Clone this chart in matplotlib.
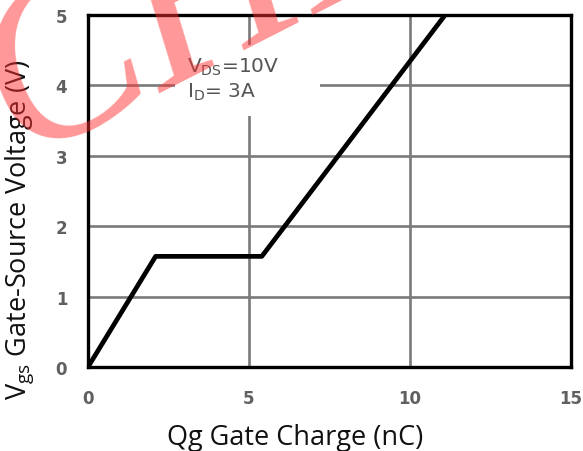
import matplotlib
matplotlib.use('Agg')
from matplotlib import pyplot as plt
from matplotlib.patches import Rectangle

# gate charge curve
qg = [0.0, 2.1, 5.4, 11.1]
vgs = [0.0, 1.57, 1.57, 5.0]

x_ticks = [0, 5, 10, 15]
y_ticks = [0, 1, 2, 3, 4, 5]


def plot_gate_charge():
    fig = plt.figure(figsize=(5.83, 4.52), dpi=100)
    ax = fig.add_axes([0.151, 0.186, 0.828, 0.779])

    ax.plot(qg, vgs, color='black', linewidth=3.4, solid_capstyle='butt', zorder=3)

    ax.set_xlim(0, 15)
    ax.set_ylim(0, 5)
    ax.set_xticks(x_ticks)
    ax.set_yticks(y_ticks)
    ax.grid(True, color='#7a7a7a', linewidth=1.9)
    ax.set_axisbelow(True)
    ax.tick_params(length=0, labelsize=12, labelcolor='#606060')
    ax.tick_params(axis='x', pad=16)
    ax.tick_params(axis='y', pad=15)
    for lab in ax.get_xticklabels() + ax.get_yticklabels():
        lab.set_family('DejaVu Sans')
        lab.set_weight('bold')
    for sp in ax.spines.values():
        sp.set_linewidth(2.4)
        sp.set_color('black')

    # white patch behind the test conditions, it breaks the grid
    ax.add_patch(Rectangle((0.18, 0.713), 0.30, 0.2, transform=ax.transAxes,
                           facecolor='white', edgecolor='none', zorder=1.5))
    ax.text(3.08, 4.09, '$\\mathregular{V_{DS}}$=10V\n$\\mathregular{I_D}$= 3A',
            fontsize=14.5, color='#555555', family='DejaVu Sans',
            va='center', ha='left', linespacing=1.2, zorder=2)

    ax.set_xlabel('Qg Gate Charge (nC)', family='Open Sans', fontsize=19.5, color='#111111')
    ax.xaxis.set_label_coords(0.429, -0.158)
    ax.set_ylabel('$\\mathregular{V_{gs}}$ Gate-Source Voltage (V)', family='Open Sans',
                  fontsize=19.5, color='#111111')
    ax.yaxis.set_label_coords(-0.108, 0.392)

    # red watermark in the top left corner
    fig.text(0.036, 0.652, 'CHIP', fontsize=170, family='Liberation Serif',
             style='italic', color='#ff3030', alpha=0.5, rotation=27,
             rotation_mode='anchor', ha='left', va='baseline', zorder=10)

    fig.savefig('out.png', dpi=100)


plot_gate_charge()
